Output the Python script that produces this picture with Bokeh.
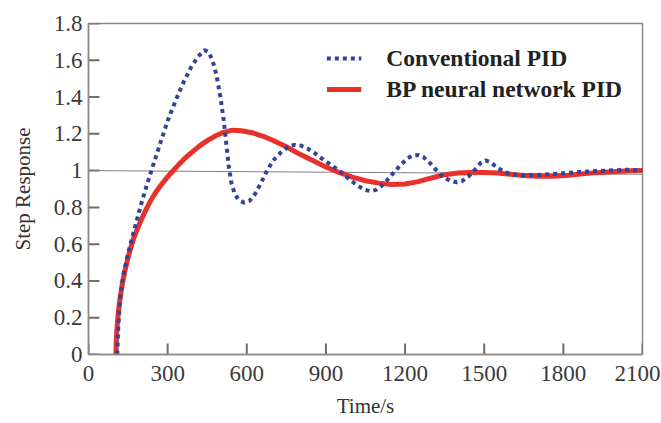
from bokeh.plotting import figure
from bokeh.models import Legend, LegendItem, FixedTicker, CustomJSTickFormatter, Range1d
from bokeh.embed import file_html
from bokeh.resources import INLINE

# ---- data ----
time_conv = [109, 112, 116, 121, 133, 147, 159, 172, 185, 204, 223, 243, 270, 300, 330, 360, 390, 415,
             440, 455, 470, 485, 500, 512, 522, 532, 542, 555, 570, 590, 610, 630, 655, 675, 700, 730,
             755, 780, 805, 830, 855, 880, 905, 930, 955, 980, 1005, 1030, 1050, 1070, 1090, 1110, 1130,
             1150, 1170, 1190, 1210, 1230, 1250, 1270, 1295, 1320, 1345, 1370, 1395, 1415, 1440, 1465,
             1485, 1505, 1525, 1550, 1580, 1610, 1640, 1700, 1780, 1850, 1950, 2050, 2100]
resp_conv = [0.0, 0.12, 0.22, 0.32, 0.44, 0.53, 0.60, 0.67, 0.74, 0.84, 0.93, 1.02, 1.14, 1.27, 1.38,
             1.48, 1.565, 1.62, 1.655, 1.645, 1.60, 1.52, 1.40, 1.28, 1.15, 1.02, 0.93, 0.87, 0.84, 0.826,
             0.835, 0.87, 0.935, 0.995, 1.055, 1.10, 1.128, 1.14, 1.136, 1.12, 1.098, 1.07, 1.045, 1.02,
             0.995, 0.963, 0.935, 0.91, 0.895, 0.888, 0.895, 0.915, 0.945, 0.978, 1.01, 1.04, 1.068, 1.083,
             1.085, 1.073, 1.04, 1.0, 0.965, 0.945, 0.937, 0.942, 0.968, 1.005, 1.04, 1.055, 1.045, 1.015,
             0.99, 0.978, 0.974, 0.976, 0.983, 0.992, 0.999, 1.005, 1.0]

time_bp = [104, 105, 107, 110, 114, 120, 129, 138, 147, 159, 171, 187, 204, 220, 235, 255, 273, 295, 318,
           340, 365, 390, 420, 450, 480, 510, 545, 580, 620, 660, 700, 750, 800, 850, 900, 950, 1000, 1050,
           1100, 1150, 1200, 1250, 1300, 1350, 1400, 1450, 1500, 1550, 1600, 1650, 1700, 1760, 1820, 1890,
           1970, 2050, 2100]
resp_bp = [0.0, 0.06, 0.12, 0.18, 0.24, 0.31, 0.39, 0.455, 0.51, 0.575, 0.63, 0.69, 0.745, 0.793, 0.835,
           0.882, 0.918, 0.958, 0.995, 1.03, 1.066, 1.098, 1.133, 1.163, 1.188, 1.207, 1.22, 1.217, 1.206,
           1.188, 1.164, 1.13, 1.09, 1.055, 1.02, 0.99, 0.965, 0.945, 0.932, 0.925, 0.927, 0.94, 0.96,
           0.978, 0.987, 0.99, 0.99, 0.987, 0.98, 0.973, 0.969, 0.969, 0.975, 0.985, 0.993, 0.999, 1.0]

ref_time = [0, 2100]
ref_resp = [1.0, 0.98]

x_ticks = [0, 300, 600, 900, 1200, 1500, 1800, 2100]
y_ticks = [0, 0.2, 0.4, 0.6, 0.8, 1.0, 1.2, 1.4, 1.6, 1.8]

series_names = ["Conventional PID", "BP neural network PID"]

# ---- figure ----
X0, X1, Y0, Y1 = 0, 2100, 0, 1.8
p = figure(width=660, height=422, output_backend="svg", toolbar_location=None,
           x_range=Range1d(X0, X1), y_range=Range1d(Y0, Y1),
           min_border_left=88, min_border_top=23, min_border_right=18, min_border_bottom=68)
p.background_fill_color = "white"
p.border_fill_color = "white"
p.xgrid.visible = False
p.ygrid.visible = False
p.outline_line_color = "#8a8a8a"
p.outline_line_width = 1.5

serif = "Liberation Serif"
for ax in (p.xaxis[0], p.yaxis[0]):
    ax.axis_line_color = "#8a8a8a"
    ax.axis_line_width = 1.5
    ax.major_tick_line_color = None
    ax.major_tick_in = 0
    ax.major_tick_out = 0
    ax.minor_tick_line_color = None
    ax.major_label_text_font = serif
    ax.major_label_text_font_size = "23px"
    ax.major_label_text_color = "#3a3a3a"
    ax.axis_label_text_font = serif
    ax.axis_label_text_font_size = "21px"
    ax.axis_label_text_font_style = "normal"
    ax.axis_label_text_color = "#333333"

p.xaxis.ticker = FixedTicker(ticks=x_ticks)
p.yaxis.ticker = FixedTicker(ticks=y_ticks)
p.yaxis.formatter = CustomJSTickFormatter(code="return Number(tick.toFixed(2)).toString();")
p.xaxis.axis_label = "Time/s"
p.yaxis.axis_label = "Step Response"
p.xaxis.major_label_standoff = 11
p.yaxis.major_label_standoff = 6
p.xaxis.axis_label_standoff = 10
p.yaxis.axis_label_standoff = 16

# inward tick marks, ~11 px long (frame is ~554 px wide, ~331 px tall)
tick_len_x = (X1 - X0) * 11 / 554
tick_len_y = (Y1 - Y0) * 11 / 331
p.segment(x0=x_ticks, y0=[Y0] * len(x_ticks), x1=x_ticks, y1=[Y0 + tick_len_y] * len(x_ticks),
          line_color="#6e6e6e", line_width=2)
p.segment(x0=[X0] * len(y_ticks), y0=y_ticks, x1=[X0 + tick_len_x] * len(y_ticks), y1=y_ticks,
          line_color="#6e6e6e", line_width=2)

p.line(ref_time, ref_resp, line_color="#808080", line_width=1)
r_bp = p.line(time_bp, resp_bp, line_color="#e8312b", line_width=5, line_join="round")
r_conv = p.line(time_conv, resp_conv, line_color="#34439a", line_width=4, line_dash="4 4")

legend = Legend(items=[LegendItem(label=series_names[0], renderers=[r_conv]),
                       LegendItem(label=series_names[1], renderers=[r_bp])],
                location="top_right")
legend.label_text_font = serif
legend.label_text_font_style = "bold"
legend.label_text_font_size = "23.5px"
legend.label_text_color = "#222222"
legend.glyph_width = 35
legend.glyph_height = 30
legend.label_height = 30
legend.label_standoff = 25
legend.spacing = 1
legend.margin = 10
legend.padding = 10
legend.background_fill_alpha = 0
legend.border_line_alpha = 0
p.add_layout(legend)

open("out.html", "w").write(file_html(p, INLINE))
